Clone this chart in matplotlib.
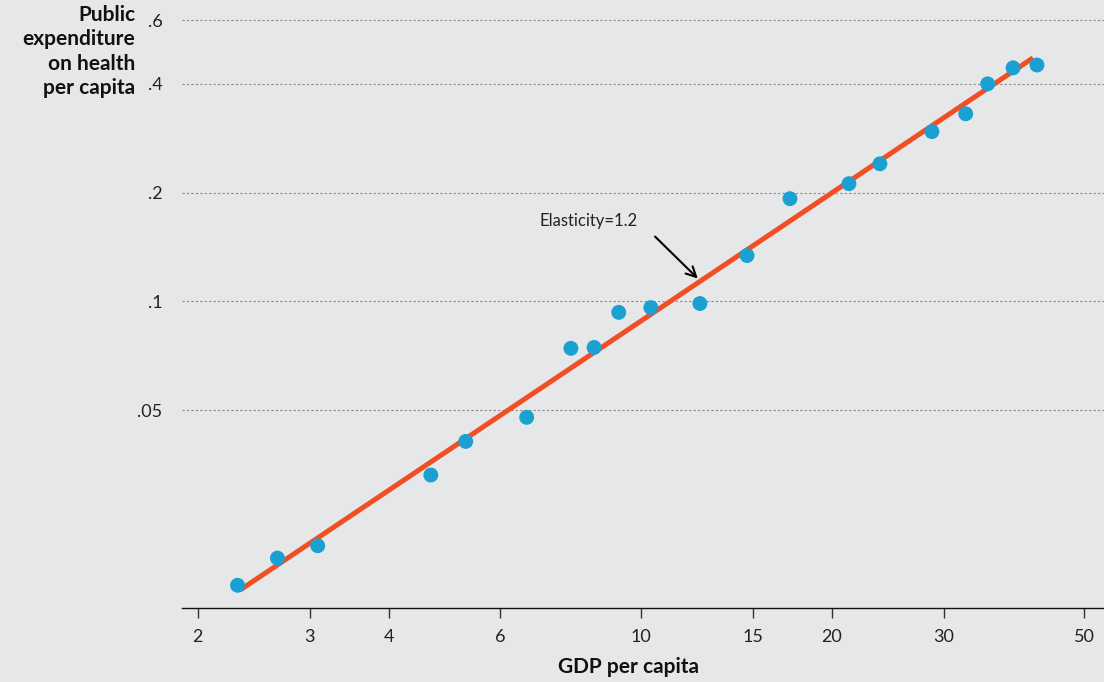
import numpy as np
import matplotlib
matplotlib.use("Agg")
import matplotlib.pyplot as plt
from matplotlib.ticker import FixedLocator, FixedFormatter, NullLocator

plt.rcParams['font.family'] = ['Lato', 'DejaVu Sans']

# GDP per capita vs public health spending per capita (log-log)
gdp = [2.31, 2.67, 3.09, 4.66, 5.29, 6.60, 7.75, 8.43, 9.22, 10.36,
       12.38, 14.69, 17.17, 21.27, 23.8, 28.75, 32.5, 35.2, 38.6, 42.1]
health = [0.0164, 0.0195, 0.0211, 0.0331, 0.0410, 0.0478, 0.0742, 0.0746,
          0.0933, 0.0962, 0.0987, 0.134, 0.1925, 0.2118, 0.2404, 0.295,
          0.3306, 0.400, 0.443, 0.451]

# fitted line end points
fit_x = [2.33, 41.5]
fit_y = [0.0159, 0.472]

xticks = [2, 3, 4, 6, 10, 15, 20, 30, 50]
xlabels = ['2', '3', '4', '6', '10', '15', '20', '30', '50']
yticks = [0.05, 0.1, 0.2, 0.4, 0.6]
ylabels = ['.05', '.1', '.2', '.4', '.6']

bg = '#e6e7e9'
fig = plt.figure(figsize=(11.04, 6.82), dpi=100, facecolor=bg)
ax = fig.add_axes([182/1104, 1-608/682, 1-182/1104, (608-10)/682])
ax.set_facecolor(bg)

ax.set_xscale('log')
ax.set_yscale('log')
ax.set_xlim(1.888, 53.7)
ax.set_ylim(0.01419, 0.6403)

ax.plot(fit_x, fit_y, color='#f04e23', lw=3.6, solid_capstyle='butt', zorder=2)
ax.scatter(gdp, health, s=115, color='#1ba0d2', edgecolor='none', zorder=3)

ax.xaxis.set_major_locator(FixedLocator(xticks))
ax.xaxis.set_major_formatter(FixedFormatter(xlabels))
ax.xaxis.set_minor_locator(NullLocator())
ax.yaxis.set_major_locator(FixedLocator(yticks))
ax.yaxis.set_major_formatter(FixedFormatter(ylabels))
ax.yaxis.set_minor_locator(NullLocator())

ax.tick_params(axis='x', length=7, width=1, color='#333333', pad=8,
               labelsize=13, labelcolor='#222222')
ax.tick_params(axis='y', length=0, pad=14, labelsize=13, labelcolor='#222222')

for s in ['top', 'right', 'left']:
    ax.spines[s].set_visible(False)
ax.spines['bottom'].set_color('#111111')
ax.spines['bottom'].set_linewidth(1)

ax.grid(axis='y', color='#888888', linestyle=(0, (2, 2)), linewidth=0.8)
ax.set_axisbelow(True)

ax.text(8.27, 0.1674, 'Elasticity=1.2', ha='center', va='center',
        fontsize=12, color='#222222')
ax.annotate('', xy=(12.29, 0.1157), xytext=(10.52, 0.1512),
            arrowprops=dict(arrowstyle='->', color='black', lw=1.5,
                            shrinkA=0, shrinkB=0, mutation_scale=18))

fig.text(135/1104, 1-5/682, 'Public\nexpenditure\non health\nper capita',
         ha='right', va='top', fontsize=15, fontweight='bold',
         linespacing=1.27, color='#111111')
fig.text(628/1104, 1-667/682, 'GDP per capita', ha='center', va='center',
         fontsize=15, fontweight='bold', color='#111111')

fig.savefig('out.png', dpi=100, facecolor=bg)
